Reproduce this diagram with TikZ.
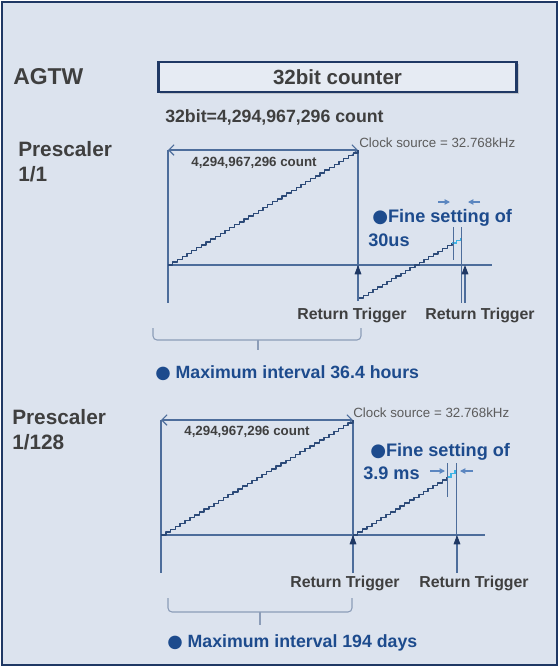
\documentclass[tikz,border=0pt]{standalone}
\usepackage{fontspec}
\setmainfont{Liberation Sans}
\newfontfamily\symfont{DejaVu Sans}
\usetikzlibrary{arrows.meta,shadows}

\definecolor{navy}{HTML}{1F3864}
\definecolor{panel}{HTML}{DCE3EE}
\definecolor{boxfill}{HTML}{E6EBF3}
\definecolor{lineblue}{HTML}{4D6D9B}
\definecolor{stairblue}{HTML}{2C4A78}
\definecolor{textblue}{HTML}{1D4B8D}
\definecolor{textgray}{HTML}{3F3F3F}
\definecolor{finecyan}{HTML}{3CB4E6}
\definecolor{finearrow}{HTML}{5B86C0}
\definecolor{bracegray}{HTML}{8C9DB8}

\tikzset{
  frame/.style={draw=navy, line width=2pt, fill=panel},
  counterbox/.style={draw=navy, line width=2.2pt, fill=boxfill, minimum width=269pt,
    minimum height=22.5pt, inner sep=0pt, text=textgray,
    font=\bfseries\fontsize{15.4}{18}\selectfont,
    drop shadow={shadow xshift=1.5pt, shadow yshift=-1.5pt, opacity=0.3}},
  title/.style={inner sep=0pt, text=textgray, font=\bfseries\fontsize{17.2}{20}\selectfont},
  prelbl/.style={inner sep=0pt, text=textgray, align=left, font=\bfseries\fontsize{15.6}{18.7}\selectfont},
  bitlbl/.style={inner sep=0pt, text=textgray, font=\bfseries\fontsize{13.3}{16}\selectfont},
  countlbl/.style={inner sep=0pt, text=textgray, font=\bfseries\fontsize{10}{12}\selectfont},
  clocklbl/.style={inner sep=0pt, text=textgray!85, anchor=west, font=\fontsize{10}{12}\selectfont},
  triglbl/.style={inner sep=0pt, text=textgray, font=\bfseries\fontsize{11.9}{14}\selectfont},
  bluelbl/.style={inner sep=0pt, text=textblue, anchor=west, font=\bfseries\fontsize{13.6}{16}\selectfont},
  maxlbl/.style={bluelbl, font=\bfseries\fontsize{13.3}{16}\selectfont},
  ln/.style={draw=lineblue, line width=0.8pt},
  stair/.style={draw=stairblue, line width=1.1pt, line join=round},
  cyanstep/.style={draw=finecyan, line width=1.1pt},
  dim/.style={ln, {Straight Barb[length=4pt,width=8pt]}-{Straight Barb[length=4pt,width=8pt]}},
  trig/.style={ln, -{Triangle[length=7pt,width=5pt,color=navy]}},
  fine/.style={draw=finearrow, line width=0.8pt, -{Triangle[length=4pt,width=4pt]}},
  brc/.style={draw=bracegray, line width=0.8pt, rounded corners=3pt}
}

\begin{document}
\begin{tikzpicture}[x=0.75pt, y=-0.75pt]
    \useasboundingbox (0,0) rectangle (560,668);
    \draw[frame] (2,2) rectangle (557,665);

    % Header
    \node[title, anchor=west] (agtw) at (13,77) {AGTW};
    \node[counterbox] (ctr) at (337.5,77) {32bit counter};
    \node[bitlbl, anchor=west] (bits) at (165,117) {32bit=4,294,967,296 count};

    \node[prelbl, anchor=north west] (pre1) at (18,141) {Prescaler\\1/1};
    \node[prelbl, anchor=north west] (pre2) at (12,409) {Prescaler\\1/128};

    % Prescaler 1/1
    \begin{scope}[shift={(168,265)}]
        \coordinate (O) at (0,0);        % start of count
        \coordinate (T) at (0,-115);     % top of left edge
        \coordinate (B) at (0,38);       % bottom of left edge
        \coordinate (P) at (190,-115);   % overflow point
        \coordinate (Q) at (191,33);     % restart after trigger
        \coordinate (E) at (324,0);      % end of time axis

        \draw[ln] (T) -- (B);
        \draw[ln] (O) -- (E);
        \draw[ln] (P) -- (190,35);
        \draw[dim] (T) -- (P);
        \node[countlbl] (cnt) at (86,-102) {4,294,967,296 count};
        \node[clocklbl] (clk) at (191,-122) {Clock source = 32.768kHz};

        % Counting up
        \draw[stair] (O) foreach \i in {1,...,40} { -- ++(4.75,0) -- ++(0,-2.875) };
        \draw[stair] (Q) foreach \i in {1,...,20} { -- ++(4.65,0) -- ++(0,-2.75) } coordinate (R);
        \draw[cyanstep] (R) -- ++(4.5,0) -- ++(0,-2.5) -- ++(4.5,0) -- ++(0,-2.5);

        % Fine setting
        \draw[ln, line width=0.6pt] (285,-38) -- (285,-5);
        \draw[ln, line width=0.6pt] (293,-38) -- (293,38);
        \draw[fine] (270,-63) -- (282,-63);
        \draw[fine] (312,-63) -- (300,-63);
        \node[bluelbl] (fine) at (204,-47) {{\symfont ●}Fine setting of};
        \node[bluelbl] (us) at (200,-25) {30us};

        % Triggers
        \coordinate (t1) at (190,36);
        \coordinate (t2) at (297,38);
        \draw[trig] (t1) -- (t1 |- O);
        \draw[trig] (t2) -- (t2 |- O);
        \node[triglbl] (rt1) at (184,50) {Return Trigger};
        \node[triglbl] (rt2) at (312,50) {Return Trigger};

        % Interval
        \draw[brc] (-15,63) |- (90,75) -| (193,63);
        \draw[brc] (90,75) -- (90,85);
        \node[maxlbl] (max) at (-13,108) {{\symfont ●} Maximum interval 36.4 hours};
    \end{scope}

    % Prescaler 1/128
    \begin{scope}[shift={(161,535)}]
        \coordinate (O) at (0,0);        % start of count
        \coordinate (T) at (0,-115);     % top of left edge
        \coordinate (B) at (0,38);       % bottom of left edge
        \coordinate (P) at (192,-115);   % overflow point
        \coordinate (E) at (324,0);      % end of time axis

        \draw[ln] (T) -- (B);
        \draw[ln] (O) -- (E);
        \draw[ln] (P) -- (192,38);
        \draw[dim] (T) -- (P);
        \node[countlbl] (cnt) at (86,-103) {4,294,967,296 count};
        \node[clocklbl] (clk) at (192,-122) {Clock source = 32.768kHz};

        % Counting up
        \draw[stair] (O) foreach \i in {1,...,40} { -- ++(4.8,0) -- ++(0,-2.875) };
        \draw[stair] (192,0) foreach \i in {1,...,20} { -- ++(4.7,0) -- ++(0,-2.9) } coordinate (R);
        \draw[cyanstep] (R) -- ++(4,0) -- ++(0,-3.5) -- ++(4,0) -- ++(0,-3.5);

        % Fine setting
        \draw[ln, line width=0.6pt] (286,-72) -- (286,-38);
        \draw[ln, line width=0.6pt] (295,-72) -- (295,38);
        \draw[fine] (269,-64) -- (284,-64);
        \draw[fine] (312,-64) -- (299,-64);
        \node[bluelbl] (fine) at (209,-83) {{\symfont ●}Fine setting of};
        \node[bluelbl] (ms) at (202,-62) {3.9 ms};

        % Triggers
        \coordinate (t1) at (192,38);
        \coordinate (t2) at (296,38);
        \draw[trig] (t1) -- (t1 |- O);
        \draw[trig] (t2) -- (t2 |- O);
        \node[triglbl] (rt1) at (184,48) {Return Trigger};
        \node[triglbl] (rt2) at (313,48) {Return Trigger};

        % Interval
        \draw[brc] (7,63) |- (99,77) -| (191,63);
        \draw[brc] (99,77) -- (99,90);
        \node[maxlbl] (max) at (6,108) {{\symfont ●} Maximum interval 194 days};
    \end{scope}

\end{tikzpicture}
\end{document}
